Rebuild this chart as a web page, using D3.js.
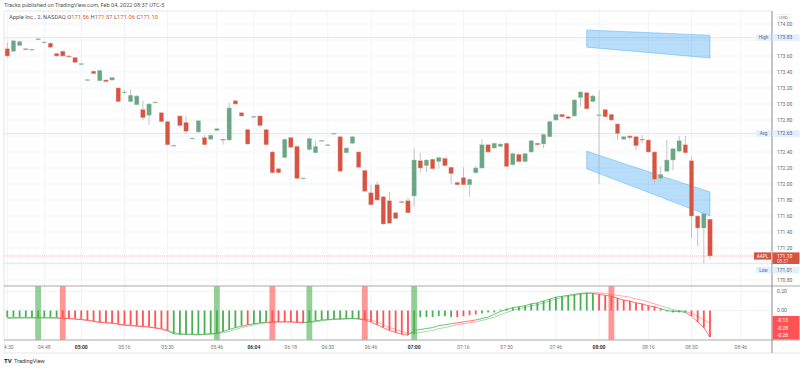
<!DOCTYPE html>
<html>
<head>
<meta charset="utf-8">
<script src="https://cdn.jsdelivr.net/npm/d3@7"></script>
<style>
  body { margin: 0; background: #fff; }
  text { font-family: Roboto, "Noto Sans", sans-serif; }
</style>
</head>
<body>
<script>
// candles, 2 minute bars, AAPL
const opens  = [173.69,173.66,173.73,173.69,173.68,173.81,173.77,173.76,173.63,173.66,
                173.60,173.58,173.50,173.30,173.41,173.29,173.30,173.30,173.20,173.15,
                173.03,172.99,172.93,172.86,173.02,172.89,172.78,172.48,172.85,172.77,
                172.57,172.65,172.58,172.56,172.67,172.56,172.55,173.04,172.89,172.68,
                172.84,172.85,172.68,172.40,172.19,172.33,172.58,172.47,172.07,172.43,
                172.39,172.54,172.49,172.63,172.59,172.39,172.51,172.40,172.17,171.89,
                171.99,171.84,171.79,171.64,171.78,171.79,171.85,172.29,172.23,172.31,
                172.28,172.32,172.21,172.02,172.08,171.99,172.14,172.20,172.49,172.45,
                172.47,172.51,172.24,172.37,172.28,172.40,172.51,172.50,172.59,172.80,
                172.87,172.84,172.85,173.08,173.14,173.03,172.86,172.93,172.87,172.75,
                172.56,172.60,172.59,172.56,172.55,172.40,172.07,172.16,172.30,172.41,
                172.49,172.29,171.60,171.45,171.56];
const closes = [173.60,173.79,173.78,173.68,173.685,173.815,173.775,173.71,173.60,173.60,
                173.59,173.52,173.505,173.305,173.38,173.42,173.28,173.33,173.03,173.15,
                173.11,173.10,172.83,173.00,173.025,172.78,172.49,172.485,172.73,172.66,
                172.575,172.79,172.49,172.61,172.69,172.55,172.95,173.00,172.85,172.50,
                172.845,172.73,172.49,172.14,172.14,172.56,172.46,172.07,172.075,172.57,
                172.47,172.545,172.49,172.635,172.16,172.45,172.59,172.21,171.91,171.74,
                171.80,171.50,171.51,171.57,171.775,171.64,172.30,172.20,172.30,172.19,
                172.33,172.23,172.13,171.99,171.99,172.06,172.20,172.49,172.40,172.51,
                172.50,172.22,172.38,172.28,172.38,172.54,172.49,172.62,172.78,172.87,
                172.84,172.82,173.05,173.15,172.94,173.10,172.865,172.84,172.80,172.63,
                172.59,172.58,172.48,172.55,172.40,172.06,172.12,172.30,172.44,172.54,
                172.39,171.60,171.45,171.63,171.10];
const highs  = [173.77,173.80,173.79,173.70,173.69,173.82,173.78,173.77,173.64,173.67,
                173.61,173.59,173.51,173.31,173.42,173.43,173.31,173.34,173.21,173.18,
                173.18,173.11,173.04,173.01,173.03,172.90,172.79,172.49,172.86,172.85,
                172.58,172.80,172.61,172.62,172.70,172.57,173.01,173.05,172.90,172.69,
                172.85,172.86,172.69,172.41,172.20,172.57,172.59,172.48,172.08,172.58,
                172.54,172.55,172.50,172.64,172.60,172.46,172.60,172.41,172.18,171.99,
                172.03,171.85,171.90,171.65,171.79,171.83,172.44,172.39,172.31,172.32,
                172.34,172.33,172.22,172.03,172.21,172.07,172.23,172.56,172.50,172.52,
                172.51,172.52,172.39,172.38,172.39,172.55,172.52,172.63,172.79,172.88,
                172.88,172.85,173.06,173.16,173.15,173.12,173.17,172.94,172.88,172.76,
                172.60,172.61,172.60,172.61,172.56,172.41,172.22,172.55,172.45,172.60,
                172.60,172.34,171.61,171.64,171.57];
const lows   = [173.58,173.65,173.72,173.67,173.67,173.80,173.76,173.70,173.59,173.59,
                173.58,173.51,173.49,173.29,173.37,173.28,173.27,173.29,173.02,173.13,
                173.02,172.98,172.80,172.74,173.01,172.77,172.48,172.47,172.72,172.63,
                172.56,172.64,172.48,172.55,172.66,172.49,172.54,172.99,172.84,172.49,
                172.83,172.72,172.48,172.13,172.13,172.32,172.45,172.06,172.06,172.42,
                172.38,172.53,172.48,172.62,172.15,172.38,172.50,172.20,171.90,171.73,
                171.79,171.49,171.50,171.56,171.77,171.63,171.72,172.14,172.15,172.18,
                172.19,172.22,172.00,171.98,171.98,171.84,172.13,172.19,172.39,172.44,
                172.46,172.21,172.23,172.27,172.27,172.39,172.48,172.45,172.58,172.79,
                172.83,172.81,172.84,172.97,172.93,173.02,172.00,172.83,172.79,172.55,
                172.55,172.55,172.42,172.51,172.39,172.01,172.03,172.15,172.17,172.40,
                172.38,171.32,171.22,171.01,171.06];

// lower pane oscillator
const histVals = [-0.07,-0.07,-0.07,-0.07,-0.07,-0.07,-0.07,-0.07,-0.075,-0.075,
                  -0.08,-0.085,-0.09,-0.10,-0.11,-0.12,-0.125,-0.13,-0.14,-0.15,
                  -0.155,-0.16,-0.165,-0.17,-0.18,-0.19,-0.21,-0.245,-0.25,-0.25,
                  -0.25,-0.255,-0.25,-0.245,-0.24,-0.22,-0.20,-0.18,-0.16,-0.15,
                  -0.14,-0.13,-0.12,-0.12,-0.12,-0.12,-0.12,-0.125,-0.13,-0.12,
                  -0.11,-0.10,-0.095,-0.09,-0.09,-0.085,-0.085,-0.09,-0.10,-0.12,
                  -0.15,-0.18,-0.21,-0.23,-0.25,-0.26,-0.25,-0.07,-0.07,-0.07,
                  -0.06,-0.06,-0.07,-0.07,-0.06,-0.05,-0.04,-0.03,-0.02,-0.02,
                  0.01,0.02,0.03,0.04,0.05,0.07,0.08,0.10,0.12,0.14,
                  0.15,0.16,0.17,0.18,0.185,0.18,0.17,0.16,0.15,0.13,
                  0.11,0.10,0.08,0.07,0.05,0.04,0.02,-0.01,-0.02,-0.02,
                  -0.02,-0.06,-0.12,-0.18,-0.28];
const fastLine = [-0.075,-0.075,-0.075,-0.075,-0.075,-0.075,-0.075,-0.075,-0.078,-0.08,
                  -0.085,-0.09,-0.095,-0.105,-0.115,-0.125,-0.13,-0.135,-0.145,-0.155,
                  -0.16,-0.165,-0.17,-0.175,-0.185,-0.195,-0.215,-0.245,-0.25,-0.25,
                  -0.25,-0.255,-0.25,-0.245,-0.24,-0.22,-0.20,-0.18,-0.165,-0.15,
                  -0.14,-0.13,-0.125,-0.12,-0.12,-0.12,-0.12,-0.125,-0.13,-0.12,
                  -0.11,-0.10,-0.095,-0.09,-0.09,-0.085,-0.085,-0.09,-0.10,-0.12,
                  -0.15,-0.18,-0.21,-0.23,-0.25,-0.26,-0.21,-0.20,-0.19,-0.18,
                  -0.16,-0.15,-0.14,-0.13,-0.12,-0.11,-0.10,-0.085,-0.07,-0.04,
                  -0.01,0.01,0.03,0.04,0.05,0.07,0.08,0.10,0.12,0.14,
                  0.15,0.16,0.17,0.18,0.185,0.18,0.17,0.16,0.15,0.13,
                  0.11,0.10,0.08,0.07,0.05,0.04,0.02,0.0,-0.01,-0.01,
                  -0.02,-0.06,-0.12,-0.18,-0.28];
const slowLine = [-0.085,-0.083,-0.08,-0.08,-0.08,-0.08,-0.08,-0.08,-0.08,-0.082,
                  -0.085,-0.09,-0.095,-0.10,-0.11,-0.12,-0.125,-0.13,-0.14,-0.15,
                  -0.155,-0.16,-0.165,-0.17,-0.18,-0.19,-0.205,-0.23,-0.245,-0.25,
                  -0.255,-0.255,-0.255,-0.25,-0.245,-0.235,-0.22,-0.20,-0.18,-0.165,
                  -0.15,-0.14,-0.13,-0.125,-0.12,-0.12,-0.12,-0.12,-0.125,-0.125,
                  -0.12,-0.11,-0.10,-0.095,-0.09,-0.09,-0.085,-0.085,-0.09,-0.10,
                  -0.12,-0.15,-0.18,-0.20,-0.22,-0.24,-0.24,-0.23,-0.22,-0.21,
                  -0.19,-0.18,-0.165,-0.15,-0.14,-0.13,-0.12,-0.105,-0.09,-0.07,
                  -0.045,-0.02,0.0,0.02,0.03,0.05,0.06,0.08,0.10,0.12,
                  0.135,0.15,0.16,0.17,0.18,0.185,0.185,0.18,0.17,0.16,
                  0.15,0.14,0.12,0.11,0.09,0.07,0.05,0.03,0.01,0.0,
                  -0.01,-0.03,-0.06,-0.10,-0.13];
const histColors = "gggggggggrrrrrrrrrrrrrrrrrrggggggggggggrgggrrrrrrgggggggggrrrrrrrrgggggggrrrrgggggggggggggggggggrrrrrrrrrrrggggrrrr".split("");
const signals = [{i: 5, c: "g"}, {i: 9, c: "r"}, {i: 34, c: "g"}, {i: 43, c: "r"},
                 {i: 49, c: "g"}, {i: 58, c: "r"}, {i: 66, c: "g"}, {i: 98, c: "r"}];

// axis ticks
const priceTicks = [170.8,171.0,171.2,171.4,171.6,171.8,172.0,172.2,172.4,172.6,172.8,173.0,173.2,173.4,173.6,173.8,174.0];
const oscTicks = [0.2, 0.0];
const timeTicks = [{i: 0, t: "04:30"}, {i: 6, t: "04:48"}, {i: 12, t: "05:00"}, {i: 19, t: "05:16"},
                   {i: 26, t: "05:30"}, {i: 34, t: "05:46"}, {i: 40, t: "06:04"}, {i: 46, t: "06:18"},
                   {i: 52, t: "06:30"}, {i: 59, t: "06:46"}, {i: 66, t: "07:00"}, {i: 74, t: "07:16"},
                   {i: 81, t: "07:30"}, {i: 89, t: "07:46"}, {i: 96, t: "08:00"}, {i: 104, t: "08:16"},
                   {i: 111, t: "08:30"}, {i: 119, t: "08:46"}];
const boldTimes = ["05:00", "06:04", "07:00", "08:00"];

// drawn channels (bar index, price)
const channels = [
  {i0: 94, i1: 114, top0: 173.925, bot0: 173.71, top1: 173.86, bot1: 173.575},
  {i0: 94, i1: 114, top0: 172.41, bot0: 172.19, top1: 171.90, bot1: 171.60}
];
const hiPrice = 173.83, avgPrice = 172.63, loPrice = 171.01, lastPrice = 171.10;
const oscLast = ["-0.13", "-0.28", "-0.28"];

const w = 800, h = 368;
const left = 4, right = 772;
const mainTop = 11, mainBot = 286, oscBot = 340, timeBot = 353;
const upCol = "#6ba583", dnCol = "#d75442";
const gCol = "#4caf50", rCol = "#ff5252";

let svg = d3.select("body").append("svg").attr("width", w).attr("height", h);
svg.append("rect").attr("width", w).attr("height", h).attr("fill", "#fff");

let x = d3.scaleLinear().domain([0, 114]).range([7.3, 710]);
let y = d3.scaleLinear().domain([170.8, 174.0]).range([280, 24]);
let yo = d3.scaleLinear().domain([-0.2, 0.2]).range([329.5, 291.5]);

// header
svg.append("text").attr("x", 4).attr("y", 7).attr("font-size", 5.6).attr("fill", "#555")
  .text("Tracks published on TradingView.com, Feb 04, 2022 08:37 UTC-5");

let defs = svg.append("defs");
defs.append("clipPath").attr("id", "cm").append("rect")
  .attr("x", left).attr("y", mainTop).attr("width", right - left).attr("height", mainBot - mainTop);
defs.append("clipPath").attr("id", "co").append("rect")
  .attr("x", left).attr("y", mainBot).attr("width", right - left).attr("height", oscBot - mainBot);

// grid
let grid = svg.append("g").attr("stroke", "#f0f3fa").attr("stroke-width", 1);
grid.selectAll(".gv").data(timeTicks).enter().append("line")
  .attr("x1", d => x(d.i)).attr("x2", d => x(d.i)).attr("y1", mainTop).attr("y2", oscBot);
grid.selectAll(".gh").data(priceTicks).enter().append("line")
  .attr("x1", left).attr("x2", right).attr("y1", d => y(d)).attr("y2", d => y(d));
grid.selectAll(".go").data(oscTicks).enter().append("line")
  .attr("x1", left).attr("x2", right).attr("y1", d => yo(d)).attr("y2", d => yo(d));

// main pane
let main = svg.append("g").attr("clip-path", "url(#cm)");

// stat lines
[hiPrice, avgPrice, loPrice].forEach(p => {
  main.append("line").attr("x1", left).attr("x2", right).attr("y1", y(p)).attr("y2", y(p))
    .attr("stroke", "#e0e0e0").attr("stroke-width", 0.8);
});
main.append("line").attr("x1", left).attr("x2", right).attr("y1", y(lastPrice)).attr("y2", y(lastPrice))
  .attr("stroke", "#f2a5a0").attr("stroke-width", 0.8).attr("stroke-dasharray", "1,1");

// channels
main.selectAll(".ch").data(channels).enter().append("path")
  .attr("d", d => `M${x(d.i0)},${y(d.top0)}L${x(d.i1)},${y(d.top1)}L${x(d.i1)},${y(d.bot1)}L${x(d.i0)},${y(d.bot0)}Z`)
  .attr("fill", "rgba(33,150,243,0.32)").attr("stroke", "rgba(33,150,243,0.45)").attr("stroke-width", 0.8);

let candles = opens.map((o, i) => ({i, o, c: closes[i], hi: highs[i], lo: lows[i]}));
main.selectAll(".wick").data(candles).enter().append("line")
  .attr("x1", d => x(d.i)).attr("x2", d => x(d.i))
  .attr("y1", d => y(d.hi)).attr("y2", d => y(d.lo))
  .attr("stroke", "#b5b5b5").attr("stroke-width", 0.8);
main.selectAll(".body").data(candles).enter().append("rect")
  .attr("x", d => x(d.i) - 2.2).attr("width", 4.4)
  .attr("y", d => y(Math.max(d.o, d.c)))
  .attr("height", d => Math.max(0.9, Math.abs(y(d.o) - y(d.c))))
  .attr("fill", d => d.c >= d.o ? upCol : dnCol)
  .attr("stroke", d => d.c >= d.o ? "#a9cdb9" : "#eba79c").attr("stroke-width", 0.4);

// legend
let leg = svg.append("text").attr("x", 9).attr("y", 19).attr("font-size", 5.8).attr("fill", "#555");
leg.append("tspan").text("Apple Inc., 2, NASDAQ  ");
[["O", "171.56"], ["H", "171.57"], ["L", "171.06"], ["C", "171.10"]].forEach(p => {
  leg.append("tspan").attr("fill", "#555").text(" " + p[0]);
  leg.append("tspan").attr("fill", dnCol).text(p[1]);
});

// oscillator pane
let osc = svg.append("g").attr("clip-path", "url(#co)");
osc.selectAll(".sig").data(signals).enter().append("rect")
  .attr("x", d => x(d.i) - 2.9).attr("width", 5.8)
  .attr("y", mainBot).attr("height", oscBot - mainBot)
  .attr("fill", d => d.c === "g" ? "rgba(76,175,80,0.6)" : "rgba(255,82,82,0.6)");
osc.selectAll(".hb").data(histVals).enter().append("rect")
  .attr("x", (d, i) => x(i) - 0.9).attr("width", 1.8)
  .attr("y", d => Math.min(yo(d), yo(0)))
  .attr("height", d => Math.abs(yo(d) - yo(0)))
  .attr("fill", (d, i) => histColors[i] === "g" ? gCol : rCol);
[fastLine, slowLine].forEach((ser, k) => {
  for (let i = 1; i < ser.length; i++) {
    osc.append("line")
      .attr("x1", x(i - 1)).attr("y1", yo(ser[i - 1]))
      .attr("x2", x(i)).attr("y2", yo(ser[i]))
      .attr("stroke", histColors[i] === "g" ? gCol : rCol)
      .attr("stroke-opacity", k === 0 ? 0.9 : 0.55).attr("stroke-width", 0.9);
  }
});

// frames
svg.append("line").attr("x1", left).attr("x2", right).attr("y1", mainTop).attr("y2", mainTop).attr("stroke", "#e6e6e6");
svg.append("line").attr("x1", left).attr("x2", left).attr("y1", mainTop).attr("y2", timeBot).attr("stroke", "#e6e6e6");
svg.append("line").attr("x1", left).attr("x2", w).attr("y1", mainBot).attr("y2", mainBot).attr("stroke", "#aaa").attr("stroke-width", 1.2);
svg.append("line").attr("x1", left).attr("x2", w).attr("y1", oscBot).attr("y2", oscBot).attr("stroke", "#aaa").attr("stroke-width", 1);
svg.append("line").attr("x1", left).attr("x2", w).attr("y1", timeBot).attr("y2", timeBot).attr("stroke", "#e6e6e6");
svg.append("line").attr("x1", right).attr("x2", right).attr("y1", mainTop).attr("y2", timeBot).attr("stroke", "#888").attr("stroke-width", 1);

// stat label positions on the price axis
let ly = y(lastPrice);
const statRows = [
  {name: "High", p: hiPrice, yy: y(hiPrice)},
  {name: "Avg", p: avgPrice, yy: y(avgPrice)},
  {name: "Low", p: loPrice, yy: ly + 14}
];
const busy = [y(hiPrice), y(avgPrice), ly, ly + 5, ly + 14];

// price axis (ticks hidden under labels are skipped, as on the reference)
let pa = svg.append("g");
pa.selectAll("text").data(priceTicks.filter(p => busy.every(b => Math.abs(y(p) - b) > 6.5)))
  .enter().append("text")
  .attr("x", 777).attr("y", d => y(d) + 1.8).attr("font-size", 5).attr("fill", "#666")
  .text(d => d.toFixed(2));
pa.selectAll(".ot").data(oscTicks).enter().append("text")
  .attr("x", 777).attr("y", d => yo(d) + 1.8).attr("font-size", 5).attr("fill", "#666")
  .text(d => d.toFixed(2));
svg.append("rect").attr("x", 777.5).attr("y", 14.5).attr("width", 12).attr("height", 6.5)
  .attr("rx", 1).attr("fill", "#fff").attr("stroke", "#ddd").attr("stroke-width", 0.5);
svg.append("text").attr("x", 783.5).attr("y", 19.3).attr("text-anchor", "middle").attr("font-size", 4.4).attr("fill", "#666").text("USD");

statRows.forEach(r => {
  svg.append("rect").attr("x", 756).attr("y", r.yy - 3.2).attr("width", 15).attr("height", 6.4).attr("fill", "#e3effd");
  svg.append("text").attr("x", 763.5).attr("y", r.yy + 1.7).attr("text-anchor", "middle").attr("font-size", 4.6).attr("fill", "#5a6477").text(r.name);
  svg.append("rect").attr("x", 772.5).attr("y", r.yy - 3.4).attr("width", 27).attr("height", 6.8).attr("fill", "#e3effd");
  svg.append("text").attr("x", 777).attr("y", r.yy + 1.8).attr("font-size", 5).attr("fill", "#5a6477").text(r.p.toFixed(2));
});

// last price label
svg.append("rect").attr("x", 754).attr("y", ly - 3.6).attr("width", 17).attr("height", 7.2).attr("fill", dnCol);
svg.append("text").attr("x", 762.5).attr("y", ly + 1.7).attr("text-anchor", "middle").attr("font-size", 4.6).attr("fill", "#fff").text("AAPL");
svg.append("rect").attr("x", 772.5).attr("y", ly - 3.6).attr("width", 27).attr("height", 11.6).attr("fill", dnCol);
svg.append("text").attr("x", 777).attr("y", ly + 1.8).attr("font-size", 5).attr("fill", "#fff").text(lastPrice.toFixed(2));
svg.append("text").attr("x", 777).attr("y", ly + 7).attr("font-size", 4.6).attr("fill", "#fbd3cf").text("08:37");

// oscillator last values
svg.append("rect").attr("x", 772.5).attr("y", 316).attr("width", 27).attr("height", 23.5).attr("fill", rCol);
oscLast.forEach((t, k) => {
  svg.append("text").attr("x", 777).attr("y", 321.8 + k * 7.8).attr("font-size", 5).attr("fill", "#fff").text(t);
});

// time axis
let ta = svg.append("g");
ta.selectAll("text").data(timeTicks).enter().append("text")
  .attr("x", d => x(d.i)).attr("y", 348.5).attr("text-anchor", "middle").attr("font-size", 5)
  .attr("fill", d => boldTimes.includes(d.t) ? "#333" : "#777")
  .attr("font-weight", d => boldTimes.includes(d.t) ? "bold" : "normal")
  .text(d => d.t);
// cover left overflow of first label
svg.append("rect").attr("x", 0).attr("y", 341).attr("width", left).attr("height", 11).attr("fill", "#fff");

// footer logo
svg.append("text").attr("x", 4).attr("y", 363).attr("font-size", 6).attr("font-weight", "bold").attr("fill", "#131722").text("TV");
svg.append("text").attr("x", 14).attr("y", 363).attr("font-size", 5.6).attr("fill", "#333").text("TradingView");
</script>
</body>
</html>
